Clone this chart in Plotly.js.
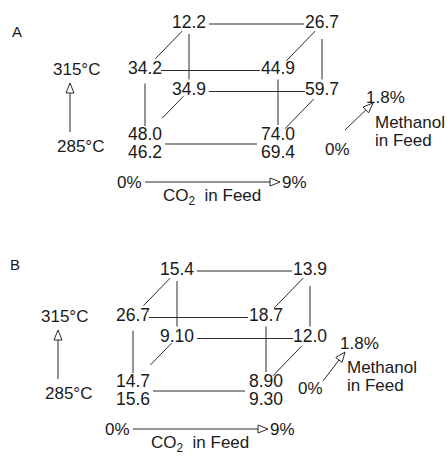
<!DOCTYPE html>
<html><head><meta charset="utf-8">
<script src="https://cdn.plot.ly/plotly-3.0.1.min.js"></script>
<style>html,body{margin:0;padding:0;background:#fff}</style>
</head><body><div id="chart" style="width:447px;height:456px"></div>
<script>
// ---- Data ----
const panelNames = ['A', 'B'];
const co2Levels = ['0%', '9%'];
const methanolLevels = ['0%', '1.8%'];
const tempLevels = ['285°C', '315°C'];
const co2Title = 'CO<sub>2</sub>  in Feed';
const methanolTitle = ['Methanol', 'in Feed'];

// Cube corners: level index of each factor
const cornerCO2      = [0, 1, 0, 1, 0, 1, 0, 1];
const cornerMethanol = [0, 0, 1, 1, 0, 0, 1, 1];
const cornerTemp     = [1, 1, 1, 1, 0, 0, 0, 0];

const valuesA     = ['34.2', '44.9', '12.2', '26.7', '48.0', '74.0', '34.9', '59.7'];
const replicatesA = [null, null, null, null, '46.2', '69.4', null, null];
const valuesB     = ['26.7', '18.7', '15.4', '13.9', '14.7', '8.90', '9.10', '12.0'];
const replicatesB = [null, null, null, null, '15.6', '9.30', null, null];

// ---- Layout / style (pixel geometry of the drawing) ----
const U = [133, 0];      // CO2 direction
const V = [44, -45.5];   // methanol direction
const Wd = [0, -66.5];   // temperature direction
const panelStyle = [
  {origin: [145, 136], letter: [17, 31], methTail: [345, 130], methTip: [373, 103],
   methHigh: [385, 97], methText: [373, 122], methText2: [373, 140], methLow: [337, 149]},
  {origin: [133, 383], letter: [15, 264], methTail: [323, 381], methTip: [345, 352],
   methHigh: [359, 343], methText: [345, 367], methText2: [345, 385], methLow: [310, 388]}
];
// edges: [from corner, to corner, trim start px, trim end px, dy]
const edges = [
  [2, 3, 20, 18, 0], [0, 1, 16, 18, 1], [6, 7, 20, 17, 1], [4, 5, 20, 21, 8],
  [4, 0, 10, 14, 0], [5, 1, 11, 10, 0], [6, 2, 11, 10, 0], [7, 3, 11, 15, 0],
  [4, 6, 25, 8, 0], [5, 7, 10, 12, 0], [0, 2, 15, 10, 0], [1, 3, 12, 10, 0]
];
const FONT = 'Liberation Sans, Arial, sans-serif';
const INK = '#1a1a1a';
const LINE = '#2a2a2a';

const panelValues = [valuesA, valuesB];
const panelReps = [replicatesA, replicatesB];

function corner(o, i) {
  const c = cornerCO2[i], m = cornerMethanol[i], t = cornerTemp[i];
  return [o[0] + c * U[0] + m * V[0] + t * Wd[0], o[1] + c * U[1] + m * V[1] + t * Wd[1]];
}
function arrowPath(tail, tip, xs, ys) {
  const dx = tip[0] - tail[0], dy = tip[1] - tail[1];
  const L = Math.hypot(dx, dy), ux = dx / L, uy = dy / L, px = -uy, py = ux;
  const hl = 10, hw = 4;
  const bx = tip[0] - ux * hl, by = tip[1] - uy * hl;
  xs.push(tail[0], bx, null, tip[0], bx + px * hw, bx - px * hw, tip[0], null);
  ys.push(tail[1], by, null, tip[1], by + py * hw, by - py * hw, tip[1], null);
}

const traces = [];
const annotations = [];
function ann(x, y, text, xanchor, size) {
  annotations.push({x, y, text, xanchor: xanchor || 'center', yanchor: 'middle', showarrow: false,
    font: {family: FONT, size: size || 17, color: INK}});
}

panelNames.forEach((name, p) => {
  const st = panelStyle[p], o = st.origin;
  const vals = panelValues[p], reps = panelReps[p];
  const lx = [], ly = [];
  edges.forEach(([a, b, s, e, dy]) => {
    const A = corner(o, a), B = corner(o, b);
    const dx = B[0] - A[0], dyy = B[1] - A[1], L = Math.hypot(dx, dyy);
    const ux = dx / L, uy = dyy / L;
    lx.push(A[0] + ux * s, B[0] - ux * e, null);
    ly.push(A[1] + uy * s + dy, B[1] - uy * e + dy, null);
  });
  // arrows
  arrowPath([o[0] - 75, o[1] - 4], [o[0] - 75, o[1] - 53], lx, ly);         // temperature
  arrowPath([o[0] + 0, o[1] + 46], [o[0] + 135, o[1] + 46], lx, ly);        // CO2
  arrowPath(st.methTail, st.methTip, lx, ly);                               // methanol
  traces.push({type: 'scatter', mode: 'lines', x: lx, y: ly, hoverinfo: 'skip',
    line: {color: LINE, width: 1}});

  // corner values
  const tx = [], ty = [], tt = [];
  vals.forEach((v, i) => {
    const c = corner(o, i);
    tx.push(c[0]); ty.push(c[1]); tt.push(v);
    if (reps[i] !== null) { tx.push(c[0]); ty.push(c[1] + 18); tt.push(reps[i]); }
  });
  traces.push({type: 'scatter', mode: 'text', x: tx, y: ty, text: tt, textposition: 'middle center',
    textfont: {family: FONT, size: 17.5, color: INK}, hoverinfo: 'skip', cliponaxis: false});

  // labels
  ann(st.letter[0], st.letter[1], name, 'center', 15);
  ann(o[0] - 69, o[1] + Wd[1], tempLevels[1], 'center', 17);
  ann(o[0] - 65, o[1] + 10, tempLevels[0], 'center', 17);
  ann(o[0] - 16, o[1] + 46, co2Levels[0]);
  ann(o[0] + 149, o[1] + 46, co2Levels[1]);
  ann(o[0] + 67, o[1] + 61, co2Title);
  ann(st.methHigh[0], st.methHigh[1], methanolLevels[1]);
  ann(st.methLow[0], st.methLow[1], methanolLevels[0]);
  ann(st.methText[0], st.methText[1], methanolTitle[0], 'left');
  ann(st.methText2[0], st.methText2[1], methanolTitle[1], 'left');
});

const layout = {
  width: 447, height: 456, margin: {l: 0, r: 0, t: 0, b: 0},
  paper_bgcolor: '#fff', plot_bgcolor: '#fff', showlegend: false,
  xaxis: {range: [0, 447], visible: false, fixedrange: true},
  yaxis: {range: [456, 0], visible: false, fixedrange: true},
  annotations
};
Plotly.newPlot('chart', traces, layout, {staticPlot: true, displayModeBar: false});
</script></body></html>
